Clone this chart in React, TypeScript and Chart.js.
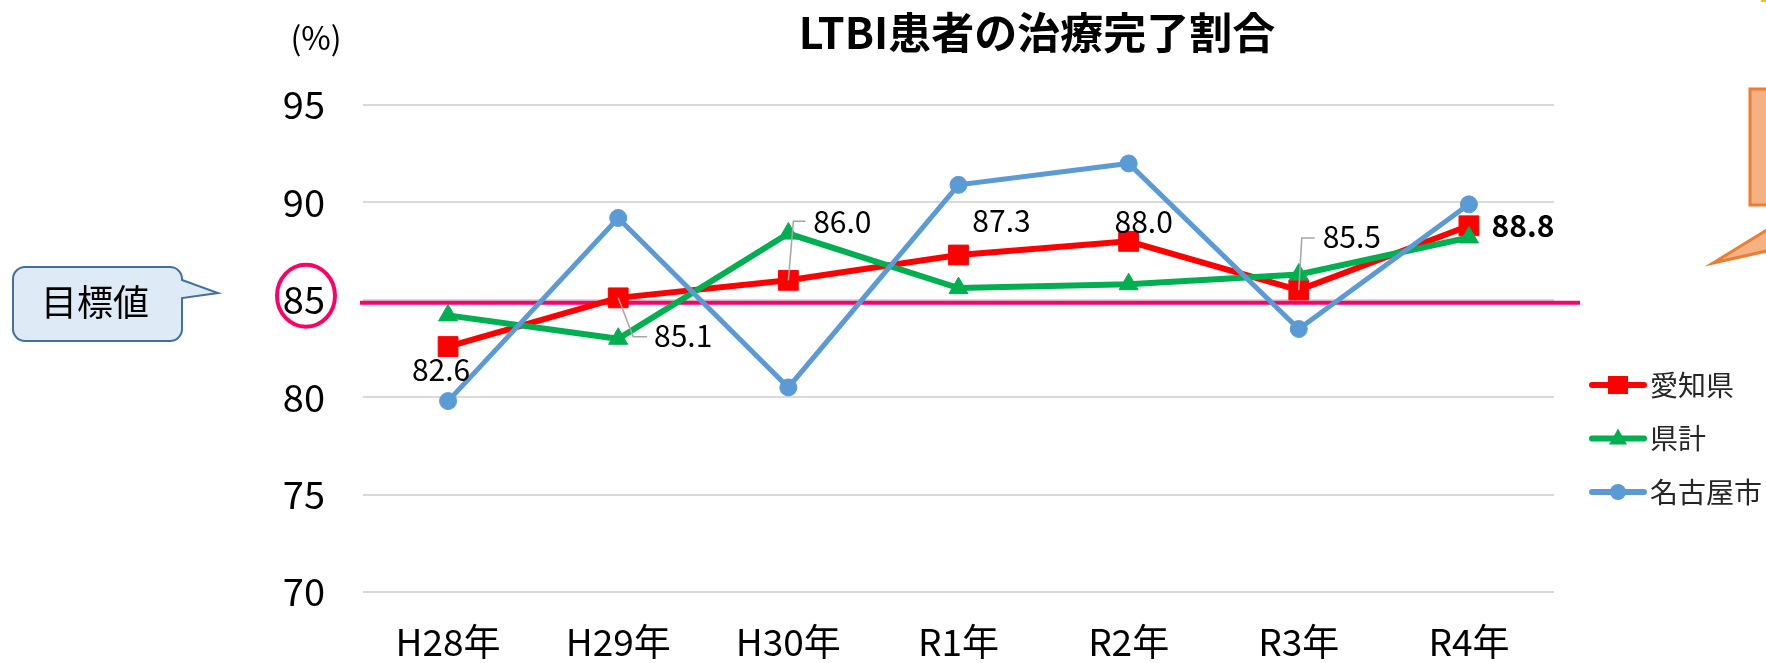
import React, { useEffect, useRef } from 'react';
import { Chart, registerables } from 'chart.js';

Chart.register(...registerables);

// ---- data ----
const categories = ['H28年', 'H29年', 'H30年', 'R1年', 'R2年', 'R3年', 'R4年'];
const seriesNames = ['愛知県', '県計', '名古屋市'];
const aichiValues = [82.6, 85.1, 86.0, 87.3, 88.0, 85.5, 88.8];
const kenkeiValues = [84.2, 83.0, 88.4, 85.6, 85.8, 86.3, 88.2];
const nagoyaValues = [79.8, 89.2, 80.5, 90.9, 92.0, 83.5, 89.9];
const yTicks = [70, 75, 80, 85, 90, 95];
const targetValue = 85;
const titleText = 'LTBI患者の治療完了割合';
const unitText = '(%)';
const targetLabel = '目標値';

// ---- styles ----
const JP = '"Noto Sans CJK JP", "Noto Sans", sans-serif';
const RED = '#FF0000';
const GREEN = '#00B050';
const BLUE = '#5B9BD5';
const PINK = '#FF0066';

// label offsets relative to the 愛知県 point (style only)
const labelOffsets = [
  [-7, 23], [65, 38], [54, -59], [43, -34], [15, -20], [53, -53], [54, 0],
];
const leaderPaths: Record<number, number[][]> = {
  1: [[15, 39], [29, 39]],
  2: [[5, -59], [17, -59]],
  5: [[3, -52], [16, -52]],
};

const overlayPlugin = {
  id: 'overlay',
  beforeDatasetsDraw(chart: any) {
    const ctx = chart.ctx;
    const y = chart.scales.y.getPixelForValue(targetValue) + 3;
    ctx.save();
    ctx.strokeStyle = PINK;
    ctx.lineWidth = 4;
    ctx.beginPath();
    ctx.moveTo(chart.chartArea.left - 3, y);
    ctx.lineTo(1580, y);
    ctx.stroke();
    ctx.restore();
  },
  afterDraw(chart: any) {
    const ctx = chart.ctx;
    ctx.save();

    // title
    ctx.fillStyle = '#000';
    ctx.font = `bold 43px ${JP}`;
    ctx.textAlign = 'center';
    ctx.textBaseline = 'middle';
    ctx.fillText(titleText, 1037, 33);

    // unit
    ctx.font = `32px ${JP}`;
    ctx.fillText(unitText, 316, 38);

    // data labels for 愛知県
    const meta = chart.getDatasetMeta(0);
    meta.data.forEach((pt: any, i: number) => {
      const path = leaderPaths[i];
      if (path) {
        ctx.strokeStyle = '#A6A6A6';
        ctx.lineWidth = 1.5;
        ctx.beginPath();
        ctx.moveTo(pt.x, pt.y);
        path.forEach(([dx, dy]) => ctx.lineTo(pt.x + dx, pt.y + dy));
        ctx.stroke();
      }
      const [dx, dy] = labelOffsets[i];
      const last = i === aichiValues.length - 1;
      ctx.fillStyle = '#000';
      ctx.font = `${last ? 'bold ' : ''}30px ${JP}`;
      ctx.textAlign = 'center';
      ctx.textBaseline = 'middle';
      ctx.fillText(aichiValues[i].toFixed(1), pt.x + dx, pt.y + dy);
    });

    // blue callout 目標値
    const l = 13, t = 267, r = 182, b = 341, rad = 12;
    ctx.beginPath();
    ctx.moveTo(l + rad, t);
    ctx.lineTo(r - rad, t);
    ctx.arcTo(r, t, r, t + rad, rad);
    ctx.lineTo(r, 280);
    ctx.lineTo(218, 293);
    ctx.lineTo(r, 298);
    ctx.lineTo(r, b - rad);
    ctx.arcTo(r, b, r - rad, b, rad);
    ctx.lineTo(l + rad, b);
    ctx.arcTo(l, b, l, b - rad, rad);
    ctx.lineTo(l, t + rad);
    ctx.arcTo(l, t, l + rad, t, rad);
    ctx.closePath();
    ctx.fillStyle = '#DEEBF7';
    ctx.fill();
    ctx.strokeStyle = '#41719C';
    ctx.lineWidth = 2;
    ctx.stroke();
    ctx.fillStyle = '#000';
    ctx.font = `36px ${JP}`;
    ctx.textAlign = 'center';
    ctx.textBaseline = 'middle';
    ctx.fillText(targetLabel, 95, 302);

    // pink ellipse around 85 tick
    const y85 = chart.scales.y.getPixelForValue(targetValue);
    ctx.beginPath();
    ctx.ellipse(306, y85 - 4, 29, 31, 0, 0, Math.PI * 2);
    ctx.strokeStyle = PINK;
    ctx.lineWidth = 4;
    ctx.stroke();

    // orange callout (cut off at right edge)
    ctx.fillStyle = '#F4B183';
    ctx.strokeStyle = '#ED7D31';
    ctx.lineWidth = 3;
    ctx.fillRect(1750, 89, 30, 116);
    ctx.strokeRect(1750, 89, 30, 116);
    ctx.beginPath();
    ctx.moveTo(1780, 222);
    ctx.lineTo(1713, 263);
    ctx.lineTo(1780, 248);
    ctx.closePath();
    ctx.fill();
    ctx.beginPath();
    ctx.moveTo(1780, 222);
    ctx.lineTo(1713, 263);
    ctx.lineTo(1780, 248);
    ctx.stroke();
    ctx.fillStyle = '#FFC000';
    ctx.fillRect(1761, 0, 5, 2);

    // legend
    chart.data.datasets.forEach((ds: any, i: number) => {
      const ly = 385 + i * 53.5;
      ctx.strokeStyle = ds.borderColor;
      ctx.lineWidth = 6;
      ctx.lineCap = 'round';
      ctx.beginPath();
      ctx.moveTo(1592, ly);
      ctx.lineTo(1644, ly);
      ctx.stroke();
      ctx.fillStyle = ds.borderColor;
      const cx = 1618;
      if (ds.pointStyle === 'rect') {
        ctx.fillRect(cx - 10, ly - 9, 20, 18);
      } else if (ds.pointStyle === 'triangle') {
        ctx.beginPath();
        ctx.moveTo(cx, ly - 10);
        ctx.lineTo(cx + 9, ly + 6);
        ctx.lineTo(cx - 9, ly + 6);
        ctx.closePath();
        ctx.fill();
      } else {
        ctx.beginPath();
        ctx.arc(cx, ly, 8, 0, Math.PI * 2);
        ctx.fill();
      }
      ctx.fillStyle = '#262626';
      ctx.font = `28px ${JP}`;
      ctx.textAlign = 'left';
      ctx.textBaseline = 'middle';
      ctx.fillText(ds.label, 1650, ly);
    });

    ctx.restore();
  },
};

export default function App() {
  const canvasRef = useRef<HTMLCanvasElement | null>(null);

  useEffect(() => {
    const canvas = canvasRef.current;
    if (!canvas) return;
    const chart = new Chart(canvas, {
      type: 'line',
      data: {
        labels: categories,
        datasets: [
          {
            label: seriesNames[0],
            data: aichiValues,
            borderColor: RED,
            backgroundColor: RED,
            borderWidth: 6,
            pointStyle: 'rect',
            pointRadius: 14,
            pointBorderWidth: 1,
            order: 3,
          },
          {
            label: seriesNames[1],
            data: kenkeiValues,
            borderColor: GREEN,
            backgroundColor: GREEN,
            borderWidth: 6,
            pointStyle: 'triangle',
            pointRadius: 11,
            pointBorderWidth: 1,
            order: 2,
          },
          {
            label: seriesNames[2],
            data: nagoyaValues,
            borderColor: BLUE,
            backgroundColor: BLUE,
            borderWidth: 5,
            pointStyle: 'circle',
            pointRadius: 8.5,
            pointBorderWidth: 1,
            order: 1,
          },
        ],
      },
      options: {
        responsive: false,
        animation: false,
        devicePixelRatio: 1,
        layout: { padding: { left: 0, top: 105, right: 212, bottom: 0 } },
        plugins: {
          legend: { display: false },
          title: { display: false },
          tooltip: { enabled: false },
        },
        scales: {
          x: {
            offset: true,
            grid: { display: false, drawTicks: false },
            border: { display: false },
            ticks: { color: '#000', font: { family: JP, size: 37 }, padding: 28 },
            afterFit: (s: any) => { s.height = 71; },
          },
          y: {
            min: 70,
            max: 95,
            afterBuildTicks: (s: any) => { s.ticks = yTicks.map((v) => ({ value: v })); },
            grid: { color: '#D9D9D9', lineWidth: 2, drawTicks: false },
            border: { display: false },
            ticks: { color: '#000', font: { family: JP, size: 38 }, padding: 38 },
            afterFit: (s: any) => { s.width = 363; },
          },
        },
      },
      plugins: [overlayPlugin],
    });
    return () => chart.destroy();
  }, []);

  return (
    <div style={{ position: 'fixed', left: 0, top: 0, width: 1766, height: 663, background: '#fff' }}>
      <canvas ref={canvasRef} width={1766} height={663} style={{ display: 'block' }} />
    </div>
  );
}
